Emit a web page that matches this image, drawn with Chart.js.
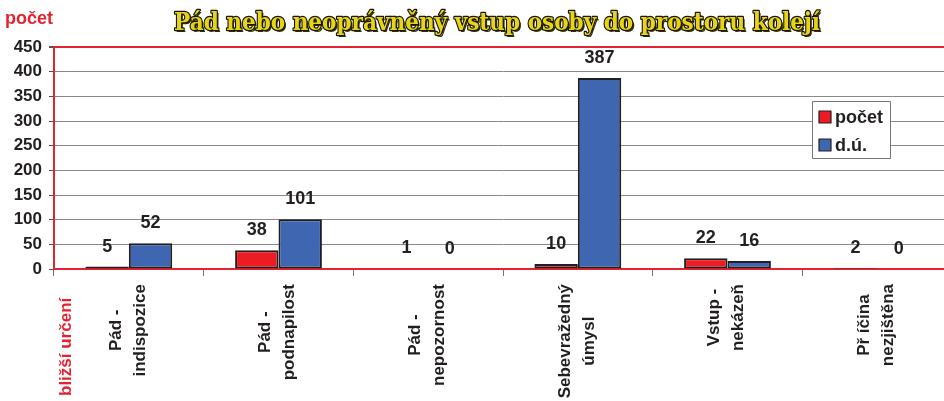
<!DOCTYPE html>
<html lang="cs">
<head>
<meta charset="UTF-8">
<title>Pád nebo neoprávněný vstup osoby do prostoru kolejí</title>
<script src="https://cdn.jsdelivr.net/npm/chart.js"></script>
<style>
  html, body { margin: 0; padding: 0; background: #fff; overflow: hidden; }
  #wrap { width: 944px; height: 401px; overflow: hidden; }
</style>
</head>
<body>
<div id="wrap"><canvas id="myChart" width="952" height="401"></canvas></div>
<script>
// categories (two-line labels) and values
var categories = [
    ['Pád -', 'indispozice'],
    ['Pád -', 'podnapilost'],
    ['Pád -', 'nepozornost'],
    ['Sebevražedný', 'úmysl'],
    ['Vstup -', 'nekázeň'],
    ['Př íčina', 'nezjištěna']
];
var pocet = [5, 38, 1, 10, 22, 2];
var du = [52, 101, 0, 387, 16, 0];
var seriesNames = ['počet', 'd.ú.'];
var yMax = 450, yStep = 50;

var title = 'Pád nebo neoprávněný vstup osoby do prostoru kolejí';
var yTitle = 'počet';
var xTitle = 'bližší určení';

var RED = '#E52330';
var DARK = '#231F20';
var FONT = '"Liberation Sans", Arial, sans-serif';

// value labels above the bars
var valueLabels = {
    id: 'valueLabels',
    afterDatasetsDraw: function (chart) {
        var ctx = chart.ctx;
        ctx.save();
        ctx.font = 'bold 18px ' + FONT;
        ctx.fillStyle = DARK;
        ctx.textAlign = 'center';
        ctx.textBaseline = 'middle';
        chart.data.datasets.forEach(function (ds, di) {
            chart.getDatasetMeta(di).data.forEach(function (bar, i) {
                ctx.fillText(String(ds.data[i]), bar.x, bar.y - 20);
            });
        });
        ctx.restore();
    }
};

// title, axis captions, rotated category labels and legend box
var decorations = {
    id: 'decorations',
    afterDraw: function (chart) {
        var ctx = chart.ctx;
        var xs = chart.scales.x;
        ctx.save();

        // heading
        ctx.font = 'bold 24px "DejaVu Serif", serif';
        var w = ctx.measureText(title).width;
        var sx = 646 / w;
        ctx.translate(497, 30);
        ctx.scale(sx, 1);
        ctx.textAlign = 'center';
        ctx.textBaseline = 'alphabetic';
        ctx.lineJoin = 'round';
        ctx.fillStyle = '#3a3300';
        ctx.fillText(title, 2, 2);
        ctx.strokeStyle = '#1a1500';
        ctx.lineWidth = 2.5;
        ctx.strokeText(title, 0, 0);
        ctx.fillStyle = '#E6D41A';
        ctx.fillText(title, 0, 0);
        ctx.setTransform(1, 0, 0, 1, 0, 0);

        // y caption
        ctx.font = 'bold 18px ' + FONT;
        ctx.fillStyle = RED;
        ctx.textAlign = 'left';
        ctx.fillText(yTitle, 5, 24);

        // x caption, rotated
        ctx.save();
        ctx.translate(66, 396);
        ctx.rotate(-Math.PI / 2);
        ctx.font = 'bold 17px ' + FONT;
        ctx.textAlign = 'left';
        ctx.textBaseline = 'middle';
        ctx.fillText(xTitle, 0, 0);
        ctx.restore();

        // category labels: block starts under the axis, lines centred on each other
        ctx.font = 'bold 17px ' + FONT;
        ctx.fillStyle = DARK;
        chart.data.labels.forEach(function (lines, i) {
            var cx = xs.getPixelForValue(i) - 1;
            var maxW = 0;
            lines.forEach(function (l) { maxW = Math.max(maxW, ctx.measureText(l).width); });
            var cy = 284 + maxW / 2;
            lines.forEach(function (l, j) {
                var lx = cx + (j - (lines.length - 1) / 2) * 24;
                ctx.save();
                ctx.translate(lx, cy);
                ctx.rotate(-Math.PI / 2);
                ctx.textAlign = 'center';
                ctx.textBaseline = 'middle';
                ctx.fillText(l, 0, 0);
                ctx.restore();
            });
        });

        // legend
        var lx = 812, ly = 101;
        ctx.fillStyle = '#fff';
        ctx.fillRect(lx, ly, 78, 57);
        ctx.strokeStyle = '#777';
        ctx.lineWidth = 1;
        ctx.strokeRect(lx + 0.5, ly + 0.5, 78, 57);
        ctx.font = 'bold 18px ' + FONT;
        ctx.textAlign = 'left';
        ctx.textBaseline = 'middle';
        chart.data.datasets.forEach(function (ds, di) {
            var yy = ly + 16 + di * 28;
            ctx.fillStyle = ds.backgroundColor;
            ctx.fillRect(lx + 7, yy - 6, 12, 12);
            ctx.strokeStyle = DARK;
            ctx.lineWidth = 1.2;
            ctx.strokeRect(lx + 7, yy - 6, 12, 12);
            ctx.fillStyle = DARK;
            ctx.fillText(ds.label, lx + 23, yy + 1);
        });

        ctx.restore();
    }
};

var ctx = document.getElementById('myChart').getContext('2d');
var myChart = new Chart(ctx, {
    type: 'bar',
    data: {
        labels: categories,
        datasets: [
            {
                label: seriesNames[0],
                data: pocet,
                backgroundColor: '#ED1C24',
                borderColor: DARK,
                borderWidth: 2,
                borderSkipped: false
            },
            {
                label: seriesNames[1],
                data: du,
                backgroundColor: '#3F66B0',
                borderColor: DARK,
                borderWidth: 2,
                borderSkipped: false
            }
        ]
    },
    options: {
        responsive: false,
        animation: false,
        layout: { padding: { top: 47, right: 0, left: 0, bottom: 0 } },
        categoryPercentage: 0.58,
        barPercentage: 1,
        plugins: {
            legend: { display: false },
            tooltip: { enabled: false },
            title: { display: false }
        },
        scales: {
            x: {
                offset: true,
                afterFit: function (s) { s.height = 132; },
                grid: {
                    offset: true,
                    drawOnChartArea: false,
                    tickLength: 7,
                    color: '#777'
                },
                border: { color: RED, width: 2 },
                ticks: { display: false }
            },
            y: {
                min: 0,
                max: yMax,
                afterFit: function (s) { s.width = 54; },
                ticks: {
                    stepSize: yStep,
                    padding: 7,
                    color: DARK,
                    font: { family: FONT, size: 17, weight: 'bold' }
                },
                grid: {
                    tickLength: 5,
                    tickColor: '#555',
                    color: function (c) { return c.tick && c.tick.value === yMax ? RED : '#8a8a8a'; },
                    lineWidth: function (c) { return c.tick && c.tick.value === yMax ? 2 : 1; }
                },
                border: { color: RED, width: 2 }
            }
        }
    },
    plugins: [valueLabels, decorations]
});
</script>
</body>
</html>
